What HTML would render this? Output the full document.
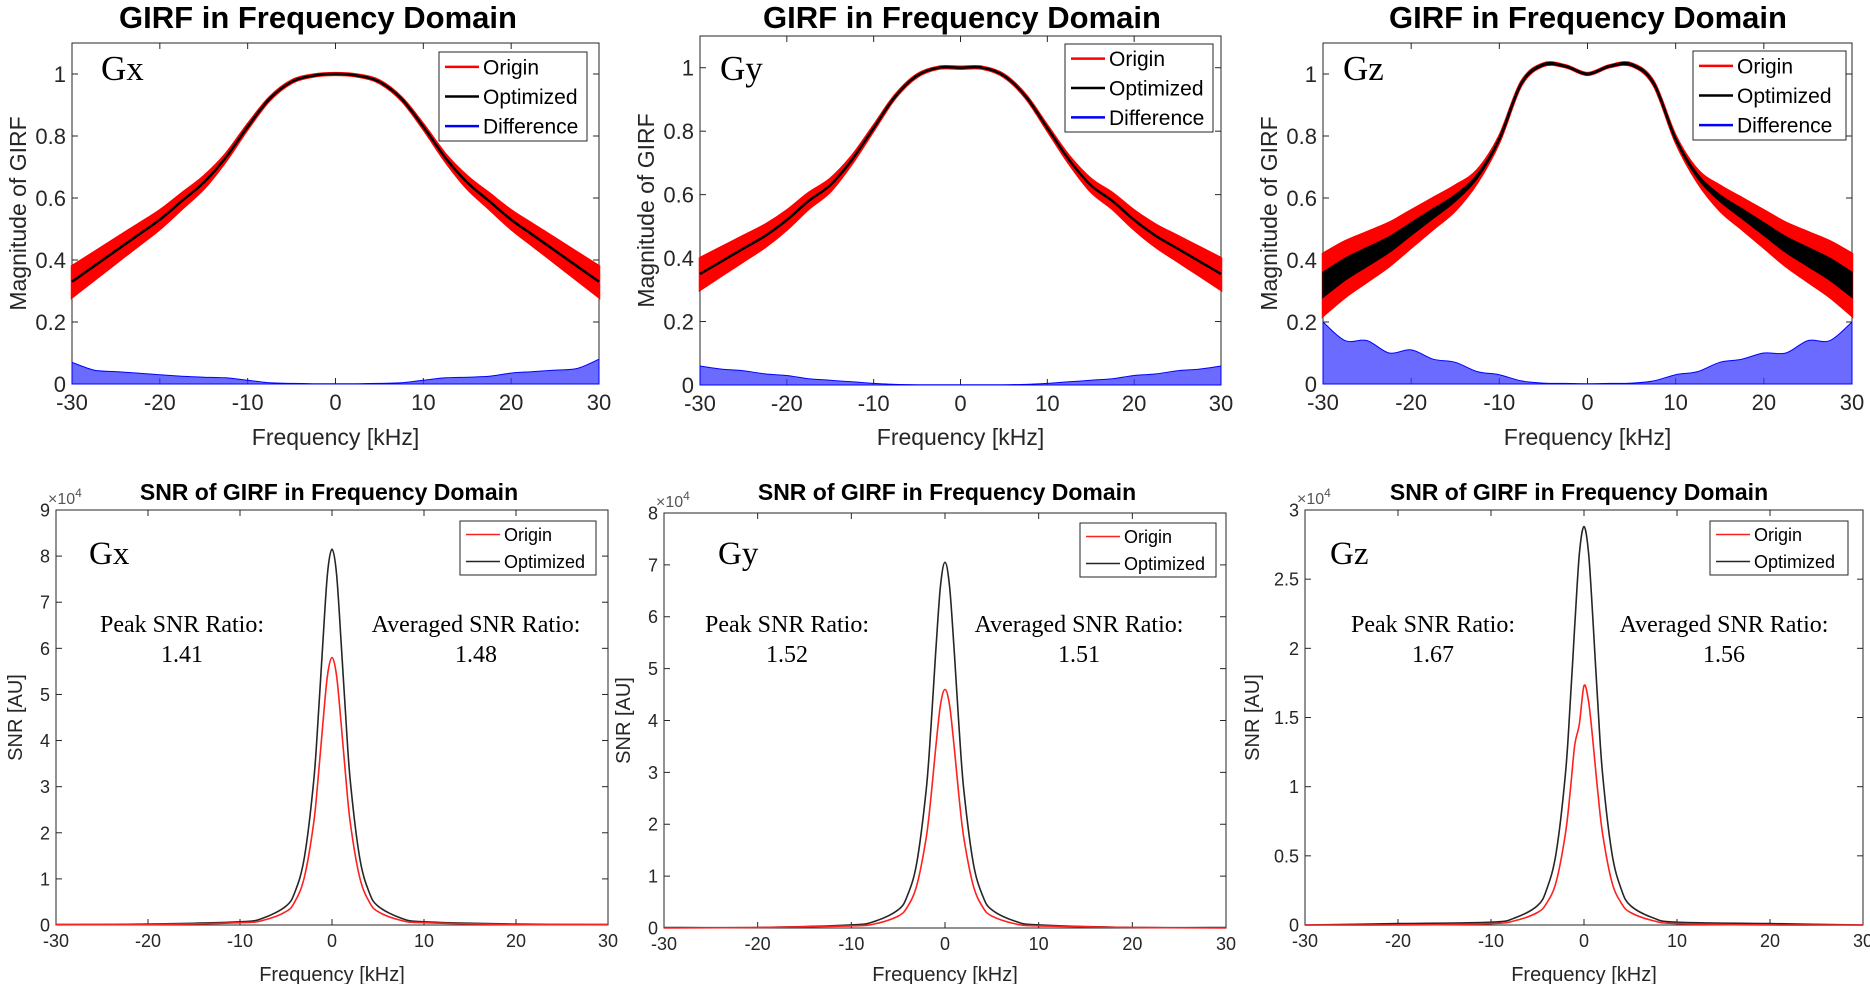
<!DOCTYPE html>
<html><head><meta charset="utf-8"><style>
html,body{margin:0;padding:0;background:#fff;}
svg{display:block;}
text{font-family:"Liberation Sans",sans-serif;}
.serif{font-family:"Liberation Serif",serif;}
</style></head><body>
<svg id="fig" width="1870" height="984" viewBox="0 0 1870 984" xmlns="http://www.w3.org/2000/svg"></svg>
<script>
// ---- GIRF magnitude data (frequency in kHz) ----
const girfFreq = [-30,-27.5,-25,-22.5,-20,-17.5,-15,-12.5,-10,-7.5,-5,-2.5,0,2.5,5,7.5,10,12.5,15,17.5,20,22.5,25,27.5,30];
const gxOptimized = [0.33,0.38,0.43,0.48,0.53,0.59,0.65,0.73,0.83,0.92,0.975,0.995,1.0,0.995,0.975,0.92,0.83,0.73,0.65,0.59,0.53,0.48,0.43,0.38,0.33];
const gxOriginSpread = [0.05,0.045,0.04,0.035,0.03,0.025,0.02,0.012,0.008,0.005,0.004,0.003,0.003,0.003,0.004,0.005,0.008,0.012,0.02,0.025,0.03,0.035,0.04,0.045,0.05];
const gxDifference = [0.07,0.045,0.04,0.035,0.03,0.025,0.022,0.02,0.012,0.004,0.002,0.001,0.001,0.001,0.002,0.004,0.012,0.02,0.022,0.025,0.035,0.04,0.045,0.05,0.08];
const gyOptimized = [0.35,0.39,0.43,0.47,0.52,0.58,0.63,0.71,0.81,0.91,0.975,1.0,1.0,1.0,0.975,0.91,0.81,0.71,0.63,0.58,0.52,0.47,0.43,0.39,0.35];
const gyOriginSpread = [0.05,0.045,0.04,0.035,0.03,0.025,0.02,0.012,0.008,0.005,0.004,0.003,0.003,0.003,0.004,0.005,0.008,0.012,0.02,0.025,0.03,0.035,0.04,0.045,0.05];
const gyDifference = [0.06,0.05,0.045,0.035,0.03,0.02,0.015,0.01,0.005,0.002,0.001,0.001,0.001,0.001,0.001,0.002,0.005,0.01,0.015,0.02,0.03,0.035,0.045,0.05,0.06];
const gzOptimized = [0.32,0.37,0.41,0.45,0.50,0.55,0.60,0.67,0.79,0.97,1.03,1.025,1.0,1.025,1.03,0.97,0.79,0.67,0.60,0.55,0.50,0.45,0.41,0.37,0.32];
const gzOriginSpread = [0.1,0.09,0.08,0.07,0.06,0.05,0.04,0.02,0.01,0.006,0.004,0.003,0.003,0.003,0.004,0.006,0.01,0.02,0.04,0.05,0.06,0.07,0.08,0.09,0.1];
const gzOptimizedSpread = [0.04,0.035,0.03,0.025,0.02,0.015,0.01,0.006,0.004,0.003,0.003,0.002,0.002,0.002,0.003,0.003,0.004,0.006,0.01,0.015,0.02,0.025,0.03,0.035,0.04];
const gzDifference = [0.2,0.14,0.14,0.1,0.11,0.08,0.07,0.04,0.03,0.01,0.003,0.002,0.001,0.002,0.003,0.01,0.03,0.04,0.07,0.08,0.1,0.1,0.14,0.14,0.2];
const girfYTicks = [0,0.2,0.4,0.6,0.8,1];
const girfYTickLabels = ['0','0.2','0.4','0.6','0.8','1'];
const freqTicks = [-30,-20,-10,0,10,20,30];
const freqTickLabels = ['-30','-20','-10','0','10','20','30'];

// ---- SNR data (x10^4) ----
const snrFreq = [-30,-20,-10,-7.5,-5,-4,-3,-2,-1.5,-1,-0.5,0,0.5,1,1.5,2,3,4,5,7.5,10,20,30];
const gxSnrOptimized = [0.01,0.02,0.07,0.15,0.41,0.73,1.47,3.1,4.5,6.1,7.6,8.15,7.6,6.1,4.5,3.1,1.47,0.73,0.41,0.15,0.07,0.02,0.01];
const gxSnrOrigin = [0.01,0.01,0.05,0.1,0.29,0.52,1.04,2.2,3.2,4.35,5.4,5.8,5.4,4.35,3.2,2.2,1.04,0.52,0.29,0.1,0.05,0.01,0.01];
const gySnrOptimized = [0.01,0.01,0.06,0.13,0.35,0.63,1.27,2.68,3.88,5.29,6.56,7.05,6.56,5.29,3.88,2.68,1.27,0.63,0.35,0.13,0.06,0.01,0.01];
const gySnrOrigin = [0.0,0.01,0.04,0.08,0.23,0.41,0.83,1.75,2.53,3.45,4.28,4.6,4.28,3.45,2.53,1.75,0.83,0.41,0.23,0.08,0.04,0.01,0.0];
const gzSnrOptimized = [0.0,0.01,0.02,0.05,0.14,0.26,0.52,1.09,1.58,2.16,2.68,2.88,2.68,2.16,1.58,1.09,0.52,0.26,0.14,0.05,0.02,0.01,0.0];
const gzSnrOrigin = [0.0,0.0,0.01,0.03,0.09,0.16,0.31,0.66,0.95,1.3,1.45,1.73,1.61,1.3,0.95,0.66,0.31,0.16,0.09,0.03,0.01,0.0,0.0];
const gxSnrTicks = [0,1,2,3,4,5,6,7,8,9];
const gySnrTicks = [0,1,2,3,4,5,6,7,8];
const gzSnrTicks = [0,0.5,1,1.5,2,2.5,3];
const gzSnrTickLabels = ['0','0.5','1','1.5','2','2.5','3'];

const NS='http://www.w3.org/2000/svg';
const svg=document.getElementById('fig');
function mk(tag,attrs,parent){const e=document.createElementNS(NS,tag);for(const k in attrs)e.setAttribute(k,attrs[k]);(parent||svg).appendChild(e);return e;}
function scale(d0,d1,r0,r1){return v=>r0+(v-d0)/(d1-d0)*(r1-r0);}
function smoothPath(pts){
  let d='M'+pts[0][0].toFixed(1)+','+pts[0][1].toFixed(1);
  for(let i=0;i<pts.length-1;i++){
    const p0=pts[Math.max(0,i-1)],p1=pts[i],p2=pts[i+1],p3=pts[Math.min(pts.length-1,i+2)];
    const c1=[p1[0]+(p2[0]-p0[0])/6,p1[1]+(p2[1]-p0[1])/6];
    const c2=[p2[0]-(p3[0]-p1[0])/6,p2[1]-(p3[1]-p1[1])/6];
    d+=' C'+c1[0].toFixed(1)+','+c1[1].toFixed(1)+' '+c2[0].toFixed(1)+','+c2[1].toFixed(1)+' '+p2[0].toFixed(1)+','+p2[1].toFixed(1);
  }
  return d;
}
function bandPath(xs,lo,hi,sx,sy){
  const topPts=xs.map((f,i)=>[sx(f),sy(hi[i])]);
  const botPts=xs.map((f,i)=>[sx(f),sy(lo[i])]).reverse();
  return smoothPath(topPts)+' L'+smoothPath(botPts).slice(1)+' Z';
}
function axes(cfg){
  const g=mk('g',{});
  
  
  const sx=scale(-30,30,cfg.x0,cfg.x1), sy=scale(0,cfg.ymax,cfg.y0,cfg.yTop);
  const box=mk('rect',{x:cfg.x0,y:cfg.yTop,width:cfg.x1-cfg.x0,height:cfg.y0-cfg.yTop,fill:'#fff',stroke:'#262626','stroke-width':1},g);
  
  
  freqTicks.forEach((t,i)=>{
    const x=sx(t);
    mk('line',{x1:x,y1:cfg.y0,x2:x,y2:cfg.y0-6,stroke:'#262626'},g);
    mk('line',{x1:x,y1:cfg.yTop,x2:x,y2:cfg.yTop+6,stroke:'#262626'},g);
    const tl=mk('text',{x:x,y:cfg.y0+cfg.tickFs+4,'font-size':cfg.tickFs,'text-anchor':'middle',fill:'#262626'},g);
    tl.textContent=freqTickLabels[i];
    
    
  });
  cfg.yTicks.forEach((t,i)=>{
    const y=sy(t);
    mk('line',{x1:cfg.x0,y1:y,x2:cfg.x0+6,y2:y,stroke:'#262626'},g);
    mk('line',{x1:cfg.x1,y1:y,x2:cfg.x1-6,y2:y,stroke:'#262626'},g);
    const tl=mk('text',{x:cfg.x0-6,y:y+cfg.tickFs*0.36,'font-size':cfg.tickFs,'text-anchor':'end',fill:'#262626'},g);
    tl.textContent=cfg.yLabels[i];
    
    
  });
  const tt=mk('text',{x:cfg.titleX,y:cfg.titleY,'font-size':cfg.titleFs,'font-weight':'bold','text-anchor':'middle',fill:'#000'},g);
  tt.textContent=cfg.title;
  
  
  const xl=mk('text',{x:(cfg.x0+cfg.x1)/2,y:cfg.xlY,'font-size':cfg.labelFs,'text-anchor':'middle',fill:'#262626'},g);
  xl.textContent='Frequency [kHz]';
  
  
  const yl=mk('text',{x:0,y:0,'font-size':cfg.labelFs,'text-anchor':'middle',fill:'#262626',transform:'translate('+cfg.ylX+','+((cfg.y0+cfg.yTop)/2)+') rotate(-90)'},g);
  yl.textContent=cfg.ylabel;
  
  
  return {g,sx,sy};
}
function legend(g,x,y,w,h,entries,fs,lw){
  const lg=mk('g',{},g);
  
  
  mk('rect',{x:x,y:y,width:w,height:h,fill:'#fff',stroke:'#262626','stroke-width':1},lg);
  const step=h/entries.length;
  entries.forEach((e,i)=>{
    const cy=y+step*(i+0.5);
    mk('line',{x1:x+6,y1:cy,x2:x+40,y2:cy,stroke:e[1],'stroke-width':lw},lg);
    const t=mk('text',{x:x+44,y:cy+fs*0.36,'font-size':fs,fill:'#000'},lg);
    t.textContent=e[0];
    
    
  });
}
function serifText(g,x,y,fs,str,anchor,name){
  const t=mk('text',{x:x,y:y,'font-size':fs,'text-anchor':anchor||'start',fill:'#000',class:'serif'},g);
  t.textContent=str;
  
  
}

// ---- top row ----
const topPanels=[
 {name:'gx-girf-panel',x0:72,x1:599,y0:384,yTop:43,lbl:'Gx',opt:gxOptimized,spr:gxOriginSpread,dif:gxDifference,ospr:null,titleX:318,leg:[439,52,148,89],gl:[101,80]},
 {name:'gy-girf-panel',x0:700,x1:1221,y0:385,yTop:36,lbl:'Gy',opt:gyOptimized,spr:gyOriginSpread,dif:gyDifference,ospr:null,titleX:962,leg:[1065,44,148,88],gl:[720,80]},
 {name:'gz-girf-panel',x0:1323,x1:1852,y0:384,yTop:43,lbl:'Gz',opt:gzOptimized,spr:gzOriginSpread,dif:gzDifference,ospr:gzOptimizedSpread,titleX:1588,leg:[1693,51,153,89],gl:[1343,80]}
];
topPanels.forEach(p=>{
  const a=axes({name:p.name,x0:p.x0,x1:p.x1,y0:p.y0,yTop:p.yTop,ymax:1.1,yTicks:girfYTicks,yLabels:girfYTickLabels,tickFs:22,labelFs:23,titleFs:31,titleX:p.titleX,titleY:28,title:'GIRF in Frequency Domain',xlY:445,ylX:p.x0-46,ylabel:'Magnitude of GIRF'});
  const zeros=girfFreq.map(()=>0);
  const difB=mk('path',{d:bandPath(girfFreq,zeros,p.dif,a.sx,a.sy),fill:'#3a3aff','fill-opacity':0.75,stroke:'#0000ff','stroke-width':1},a.g);
  
  
  const lo=p.opt.map((v,i)=>v-p.spr[i]), hi=p.opt.map((v,i)=>v+p.spr[i]);
  const orgB=mk('path',{d:bandPath(girfFreq,lo,hi,a.sx,a.sy),fill:'#ff0000',stroke:'#ff0000','stroke-width':2.5},a.g);
  
  
  if(p.ospr){
    const lo2=p.opt.map((v,i)=>v-p.ospr[i]), hi2=p.opt.map((v,i)=>v+p.ospr[i]);
    const ob=mk('path',{d:bandPath(girfFreq,lo2,hi2,a.sx,a.sy),fill:'#000',stroke:'#000','stroke-width':1.5},a.g);
    
    
  }
  const opt=mk('path',{d:smoothPath(girfFreq.map((f,i)=>[a.sx(f),a.sy(p.opt[i])])),fill:'none',stroke:'#000','stroke-width':2.5},a.g);
  
  
  legend(a.g,p.leg[0],p.leg[1],p.leg[2],p.leg[3],[['Origin','#ff0000'],['Optimized','#000'],['Difference','#0000ff']],21,2.5);
  serifText(a.g,p.gl[0],p.gl[1],35,p.lbl,'start','gradient-label');
});

// ---- bottom row ----
const botPanels=[
 {name:'gx-snr-panel',x0:56,x1:608,y0:925,yTop:510,ymax:9,ticks:gxSnrTicks,labels:gxSnrTicks.map(String),opt:gxSnrOptimized,org:gxSnrOrigin,titleX:329,leg:[460,521,136,54],lbl:'Gx',gl:[89,564],peakX:182,avgX:476,peak:'1.41',avg:'1.48',ylOff:34},
 {name:'gy-snr-panel',x0:664,x1:1226,y0:928,yTop:513,ymax:8,ticks:gySnrTicks,labels:gySnrTicks.map(String),opt:gySnrOptimized,org:gySnrOrigin,titleX:947,leg:[1080,523,136,54],lbl:'Gy',gl:[718,564],peakX:787,avgX:1079,peak:'1.52',avg:'1.51',ylOff:34},
 {name:'gz-snr-panel',x0:1305,x1:1863,y0:925,yTop:510,ymax:3,ticks:gzSnrTicks,labels:gzSnrTickLabels,opt:gzSnrOptimized,org:gzSnrOrigin,titleX:1579,leg:[1710,521,138,54],lbl:'Gz',gl:[1330,564],peakX:1433,avgX:1724,peak:'1.67',avg:'1.56',ylOff:46}
];
botPanels.forEach(p=>{
  const a=axes({name:p.name,x0:p.x0,x1:p.x1,y0:p.y0,yTop:p.yTop,ymax:p.ymax,yTicks:p.ticks,yLabels:p.labels,tickFs:18,labelFs:20,titleFs:23,titleX:p.titleX,titleY:500,title:'SNR of GIRF in Frequency Domain',xlY:981,ylX:p.x0-p.ylOff,ylabel:'SNR [AU]'});
  const ex=mk('text',{x:p.x0-8,y:p.yTop-6,'font-size':16,fill:'#555'},a.g);
  ex.textContent='\u00d710';
  const ts=mk('tspan',{dy:-7,'font-size':12},ex);
  ts.textContent='4';
  
  
  const o=mk('path',{d:smoothPath(snrFreq.map((f,i)=>[a.sx(f),a.sy(p.opt[i])])),fill:'none',stroke:'#262626','stroke-width':1.6},a.g);
  
  
  const r=mk('path',{d:smoothPath(snrFreq.map((f,i)=>[a.sx(f),a.sy(p.org[i])])),fill:'none',stroke:'#ff2020','stroke-width':1.6},a.g);
  
  
  legend(a.g,p.leg[0],p.leg[1],p.leg[2],p.leg[3],[['Origin','#ff2020'],['Optimized','#262626']],18,1.6);
  serifText(a.g,p.gl[0],p.gl[1],33,p.lbl,'start','gradient-label');
  serifText(a.g,p.peakX,632,24,'Peak SNR Ratio:','middle','peak-snr-label');
  serifText(a.g,p.peakX,662,24,p.peak,'middle','peak-snr-value');
  serifText(a.g,p.avgX,632,24,'Averaged SNR Ratio:','middle','averaged-snr-label');
  serifText(a.g,p.avgX,662,24,p.avg,'middle','averaged-snr-value');
});
</script>
</body></html>
